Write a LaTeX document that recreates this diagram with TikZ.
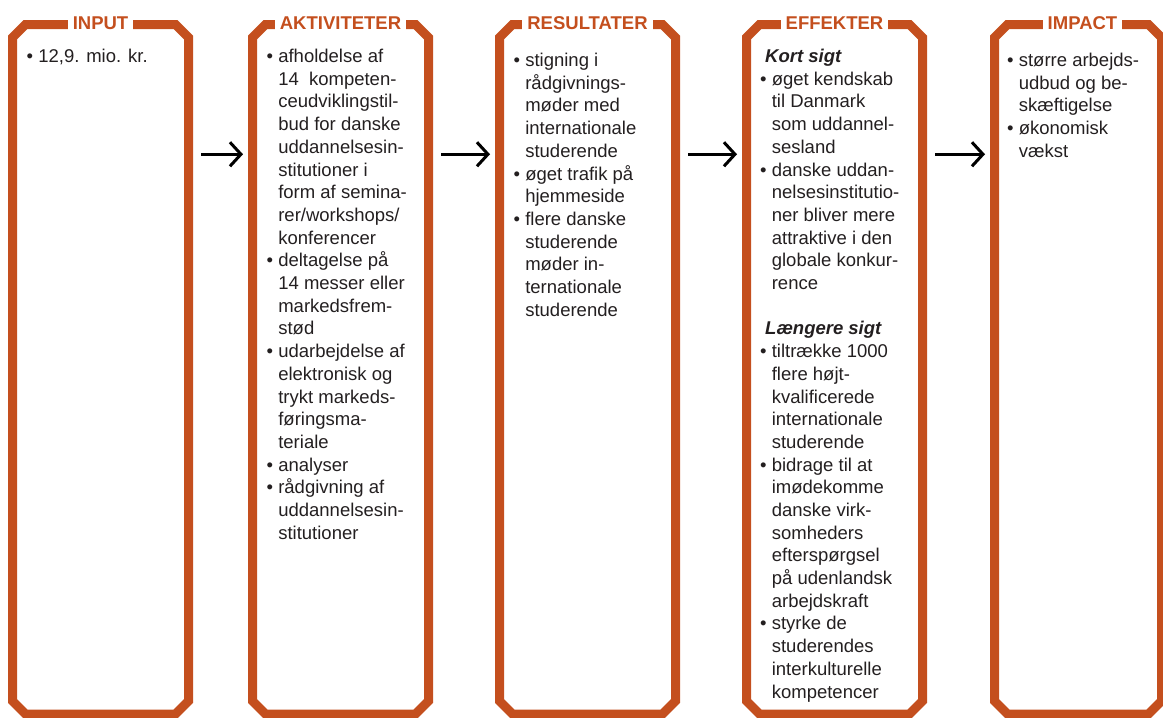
\documentclass[tikz,border=0pt]{standalone}
\usepackage{fontspec}
\setmainfont{Liberation Sans}
\usepackage{xcolor}
\usetikzlibrary{arrows.meta}
\definecolor{rust}{RGB}{196,79,30}
\definecolor{ink}{RGB}{35,31,32}
\newcommand{\bl}{\textbullet}
\newcommand{\subhead}[1]{\multicolumn{2}{@{\hspace{5pt}}l@{}}{\textbf{\textit{#1}}}}
\tikzset{
	stagebox/.style={
			draw=none, rectangle, inner sep=0pt, outer sep=0pt,
			minimum height=689.5pt
		},
	rim/.style={draw=rust, line width=9pt, miter limit=4},
	boxtitle/.style={
			fill=white, text=rust, inner xsep=5pt, inner ysep=2pt, anchor=base,
			font=\fontsize{18.5pt}{22.7pt}\selectfont\bfseries
		},
	bullets/.style={
			anchor=base west, inner sep=0pt, text=ink,
			font=\fontsize{18.5pt}{22.7pt}\selectfont
		},
	flow/.style={
			line width=3pt, -{Straight Barb[length=11pt,width=24pt]},
			shorten <=12.5pt, shorten >=9.5pt
		}
}

\begin{document}
\begin{tikzpicture}[x=1pt,y=-1pt]
	\useasboundingbox (0,0) rectangle (1163,718);
	% Boxes
	\node[stagebox, minimum width=176pt] (input) at (100.5,369.25) {};
	\node[stagebox, minimum width=176pt] (aktiv) at (340.5,369.25) {};
	\node[stagebox, minimum width=176pt] (result) at (587.5,369.25) {};
	\node[stagebox, minimum width=176pt] (effekt) at (834.5,369.25) {};
	\node[stagebox, minimum width=167pt] (impact) at (1078,369.25) {};
	\foreach \n in {input,aktiv,result,effekt,impact}
	\draw[rim] ([xshift=13pt]\n.north west) -- ([xshift=-13pt]\n.north east)
	-- ([yshift=-13pt]\n.north east) -- ([yshift=13pt]\n.south east)
	-- ([xshift=-13pt]\n.south east) -- ([xshift=13pt]\n.south west)
	-- ([yshift=13pt]\n.south west) -- ([yshift=-13pt]\n.north west) -- cycle;
	% Titles
	\node[boxtitle] (t1) at (100.5,29) {INPUT};
	\node[boxtitle] (t2) at (340.5,29) {AKTIVITETER};
	\node[boxtitle] (t3) at (587.5,29) {RESULTATER};
	\node[boxtitle] (t4) at (834.5,29) {EFFEKTER};
	\node[boxtitle] (t5) at (1082.5,29) {IMPACT};
	% Arrows
	\foreach \a/\b in {input/aktiv, aktiv/result, result/effekt, effekt/impact}
	\draw[flow] ([yshift=215pt]\a.east) -- ([yshift=215pt]\b.west);
	% Texts
	\node[bullets] (x1) at (26.5,62.5) {\begin{tabular}[t]{@{}l@{\ }l@{}}
			\bl & 12,9. mio. kr.
		\end{tabular}};
	\node[bullets] (x2) at (266.5,62.5) {\begin{tabular}[t]{@{}l@{\ }l@{}}
			\bl & afholdelse af\\
			    & 14\hspace{0.55em}kompeten-\\
			    & ceudviklingstil-\\
			    & bud for danske\\
			    & uddannelsesin-\\
			    & stitutioner i\\
			    & form af semina-\\
			    & rer/workshops/\\
			    & konferencer\\
			\bl & deltagelse på\\
			    & 14 messer eller\\
			    & markedsfrem-\\
			    & stød\\
			\bl & udarbejdelse af\\
			    & elektronisk og\\
			    & trykt markeds-\\
			    & føringsma-\\
			    & teriale\\
			\bl & analyser\\
			\bl & rådgivning af\\
			    & uddannelsesin-\\
			    & stitutioner
		\end{tabular}};
	\node[bullets] (x3) at (513.5,66.5) {\begin{tabular}[t]{@{}l@{\ }l@{}}
			\bl & stigning i\\
			    & rådgivnings-\\
			    & møder med\\
			    & internationale\\
			    & studerende\\
			\bl & øget trafik på\\
			    & hjemmeside\\
			\bl & flere danske\\
			    & studerende\\
			    & møder in-\\
			    & ternationale\\
			    & studerende
		\end{tabular}};
	\node[bullets] (x4) at (760,62.5) {\begin{tabular}[t]{@{}l@{\ }l@{}}
			\subhead{Kort sigt}\\
			\bl & øget kendskab\\
			    & til Danmark\\
			    & som uddannel-\\
			    & sesland\\
			\bl & danske uddan-\\
			    & nelsesinstitutio-\\
			    & ner bliver mere\\
			    & attraktive i den\\
			    & globale konkur-\\
			    & rence\\
			    & \\
			\subhead{Længere sigt}\\
			\bl & tiltrække 1000\\
			    & flere højt-\\
			    & kvalificerede\\
			    & internationale\\
			    & studerende\\
			\bl & bidrage til at\\
			    & imødekomme\\
			    & danske virk-\\
			    & somheders\\
			    & efterspørgsel\\
			    & på udenlandsk\\
			    & arbejdskraft\\
			\bl & styrke de\\
			    & studerendes\\
			    & interkulturelle\\
			    & kompetencer
		\end{tabular}};
	\node[bullets] (x5) at (1007,66.5) {\begin{tabular}[t]{@{}l@{\ }l@{}}
			\bl & større arbejds-\\
			    & udbud og be-\\
			    & skæftigelse\\
			\bl & økonomisk\\
			    & vækst
		\end{tabular}};
\end{tikzpicture}
\end{document}
